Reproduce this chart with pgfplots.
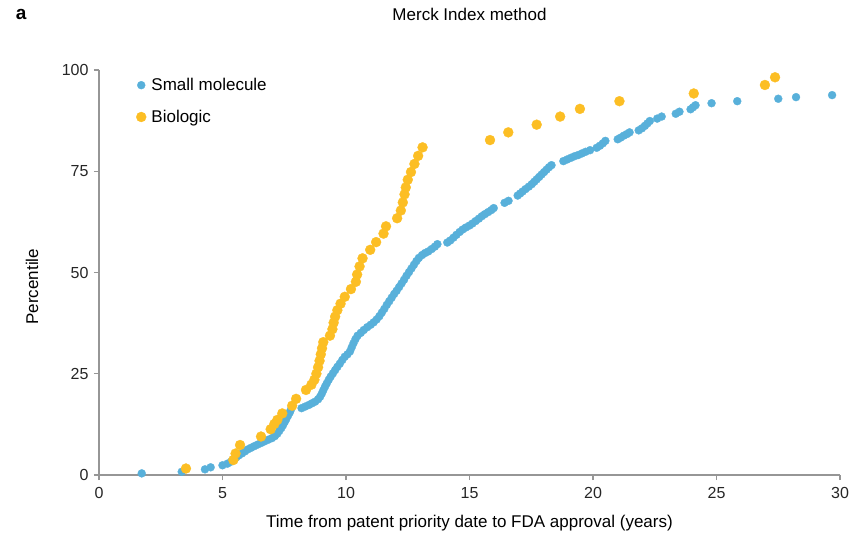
\documentclass[border=0pt]{standalone}
\usepackage{fontspec}
\setmainfont{Liberation Sans}
\usepackage{pgfplots}
\pgfplotsset{compat=1.18}

\definecolor{smallblue}{RGB}{88,176,218}
\definecolor{bioorange}{RGB}{252,190,36}
\definecolor{axisgray}{RGB}{150,150,150}

\begin{document}
\begin{tikzpicture}[x=1pt,y=1pt]
\path[use as bounding box] (0,0) rectangle (853,540);
\begin{axis}[
    at={(99pt,65pt)}, anchor=south west,
    width=741pt, height=405pt, scale only axis,
    xmin=0, xmax=30, ymin=0, ymax=100,
    xtick={0,5,...,30}, ytick={0,25,50,75,100},
    axis lines*=left,
    axis line style={axisgray, line width=1.1pt, -},
    tick align=outside, major tick length=5pt,
    tick style={axisgray, line width=1.1pt},
    /pgf/number format/assume math mode=true,
    ticklabel style={font=\fontsize{16}{19}\selectfont, text=black!85},
    xticklabel style={yshift=-4pt},
    yticklabel style={xshift=-2pt},
    xlabel={Time from patent priority date to FDA approval (years)},
    ylabel={Percentile},
    label style={font=\fontsize{17}{20}\selectfont},
    xlabel style={at={(axis description cs:0.5,-0.1185)}, anchor=center},
    ylabel style={at={(axis description cs:-0.0904,0.465)}, anchor=center},
    title={Merck Index method},
    every axis title/.style={font=\fontsize{17}{20}\selectfont, at={(axis description cs:0.5,1.136)}, anchor=center},
    legend style={draw=none, fill=none, at={(axis description cs:0.05,0.985)}, anchor=north west,
        font=\fontsize{17}{20}\selectfont, row sep=14pt, inner sep=0pt},
    legend cell align=left,
    legend image code/.code={\draw[#1] plot coordinates {(0pt,0pt)}; \path (8pt,0pt);},
    clip=false,
]
% small molecule
\addplot[only marks, mark=*, color=smallblue, mark size=4pt, mark options={line width=0.3pt}] coordinates {
(1.73,0.4) (3.35,0.8) (4.29,1.4) (4.52,1.9) (5.0,2.4) (5.2,2.8)
(5.35,3.3) (5.45,3.8) (5.55,4.3) (5.65,4.8) (5.78,5.3) (5.9,5.8) (6.02,6.3) (6.15,6.7)
(6.28,7.1) (6.42,7.5) (6.56,7.9) (6.7,8.3) (6.85,8.7) (7.0,9.1) (7.12,9.6) (7.22,10.2)
(7.3,10.9) (7.38,11.6) (7.45,12.3) (7.52,13.1) (7.58,13.8) (7.65,14.6) (7.72,15.4) (7.76,16.0)
(8.2,16.5) (8.35,16.9) (8.5,17.3) (8.62,17.7) (8.75,18.1) (8.87,18.7) (8.95,19.3) (9.02,20.1)
(9.08,20.9) (9.15,21.8) (9.22,22.6) (9.3,23.5) (9.38,24.3) (9.47,25.1) (9.56,25.9) (9.65,26.7)
(9.75,27.5) (9.85,28.4) (9.95,29.2) (10.06,29.8) (10.16,30.5) (10.23,31.5) (10.3,32.5) (10.38,33.5)
(10.47,34.4) (10.6,35.1) (10.72,35.8) (10.86,36.5) (11.0,37.1) (11.12,37.7) (11.24,38.4) (11.35,39.2)
(11.45,40.1) (11.55,41.0) (11.65,42.0) (11.75,42.9) (11.85,43.8) (11.95,44.7) (12.05,45.5) (12.15,46.4)
(12.25,47.3) (12.35,48.2) (12.45,49.2) (12.55,50.1) (12.65,51.0) (12.75,51.9) (12.85,52.8) (12.95,53.6)
(13.08,54.3) (13.2,54.8) (13.33,55.2) (13.47,55.8) (13.6,56.4) (13.7,57.0)
(14.1,57.4) (14.22,57.9) (14.35,58.6) (14.47,59.3) (14.6,60.0) (14.72,60.6) (14.85,61.1) (15.0,61.6)
(15.12,62.1) (15.25,62.7) (15.38,63.3) (15.5,63.9) (15.62,64.4) (15.75,64.9) (15.88,65.4) (15.98,65.9)
(16.42,67.2) (16.58,67.7)
(16.95,69.0) (17.05,69.5) (17.15,70.0) (17.27,70.6) (17.4,71.2) (17.52,71.8) (17.62,72.4) (17.72,73.0)
(17.82,73.6) (17.92,74.2) (18.02,74.8) (18.12,75.4) (18.22,76.0) (18.32,76.5)
(18.8,77.5) (18.95,77.9) (19.1,78.3) (19.25,78.7) (19.4,79.0) (19.55,79.4) (19.7,79.8) (19.88,80.2)
(20.15,80.8) (20.28,81.3) (20.4,81.9) (20.5,82.5)
(21.0,82.9) (21.12,83.3) (21.25,83.8) (21.38,84.2) (21.48,84.6)
(21.85,85.1) (21.98,85.6) (22.1,86.2) (22.2,86.8) (22.3,87.4)
(22.6,88.0) (22.78,88.5) (23.35,89.2) (23.5,89.7)
(23.95,90.3) (24.05,90.8) (24.15,91.3)
(24.8,91.8) (25.84,92.3) (27.5,92.9) (28.22,93.3) (29.68,93.8)
};
\addlegendentry{Small molecule}
% biologic
\addplot[only marks, mark=*, color=bioorange, mark size=5pt, mark options={line width=0.3pt}] coordinates {
(3.52,1.6) (5.44,3.7) (5.53,5.3) (5.71,7.4) (6.56,9.5) (6.95,11.3) (7.1,12.6) (7.22,13.6)
(7.42,15.2) (7.82,17.1) (7.98,18.8) (8.38,21.0) (8.6,22.3) (8.72,23.5) (8.8,25.0) (8.87,26.6)
(8.93,28.2) (8.98,29.8) (9.03,31.3) (9.08,32.8) (9.35,34.4) (9.45,36.0) (9.5,37.6) (9.56,39.1)
(9.65,40.7) (9.78,42.3) (9.95,44.0) (10.2,45.9) (10.4,47.7) (10.45,49.5) (10.55,51.5) (10.67,53.5)
(10.98,55.6) (11.22,57.5) (11.52,59.6) (11.62,61.4) (12.07,63.4) (12.22,65.3) (12.3,67.3) (12.37,69.3)
(12.42,71.0) (12.5,72.9) (12.63,74.8) (12.77,76.8) (12.92,78.8) (13.1,80.9)
(15.83,82.7) (16.57,84.6) (17.72,86.5) (18.67,88.5) (19.47,90.4) (21.07,92.3) (24.08,94.2)
(26.96,96.3) (27.37,98.2)
};
\addlegendentry{Biologic}
\node[font=\fontsize{19}{22}\selectfont\bfseries, anchor=center] at (rel axis cs:-0.105,1.136) {a};
\end{axis}
\end{tikzpicture}
\end{document}
